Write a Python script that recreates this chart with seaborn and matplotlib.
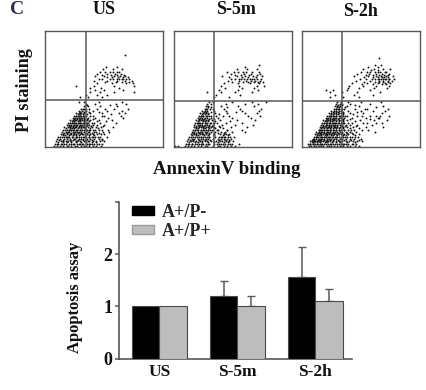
import pandas as pd
import matplotlib
matplotlib.use('Agg')
import matplotlib.pyplot as plt
from matplotlib.patches import Patch
import seaborn as sns

sns.set_style('white')
plt.rcParams['font.family'] = ['Liberation Serif', 'DejaVu Serif']
plt.rcParams['font.weight'] = 'bold'

W, H = 427, 390
LINE = '#585858'

panel_names = ['US', 'S-5m', 'S-2h']

# flow cytometry dots, percent of panel size
# each row is one height (y) and the x positions of the dots seen around it
us_rows = {
    1: [7,10,12,15,18,19,22,25,27,30,33,34,37,40,43,47],
    3: [8,11,14,16,20,23,24,28,31,32,35,38,41,44,48],
    5: [9,13,15,17,19,22,26,27,29,33,36,37,40,43,46,50],
    7: [10,12,16,18,21,24,25,28,30,32,35,38,41,45,48],
    9: [11,14,17,19,20,23,26,27,30,33,34,37,39,42,46,52],
    11: [13,15,18,21,22,24,26,29,31,32,35,38,40,44,47,50],
    13: [14,17,19,20,23,25,27,28,30,33,36,37,41,43,49,54],
    15: [15,18,20,22,24,26,27,29,31,34,35,38,42,45,53],
    17: [16,19,21,23,25,26,28,30,32,33,36,39,43,47,57],
    19: [18,20,22,24,26,27,29,31,33,35,37,40,44,50],
    21: [19,21,23,25,26,28,30,32,34,36,39,46,60],
    23: [21,23,25,26,28,29,31,33,35,38,45,56],
    25: [23,25,27,28,30,31,33,36,42,53,66],
    27: [24,26,28,30,32,34,40,50,64],
    29: [26,28,30,33,38,48,62,67],
    31: [28,31,34,40,52,65],
    33: [30,33,37,44,58,70],
    35: [33,36,46,61],
    37: [34,42,60,68],
    39: [28,33,45,65],
    43: [29,36,48],
    45: [34,44,52],
    47: [38,46,58,75],
    49: [42,50,66],
    51: [38,47,62],
    53: [26,41,58,75],
    55: [44,56,68,74],
    57: [41,52,61,67,73],
    59: [48,57,62,66,71],
    61: [42,50,58,63,67],
    63: [44,52,59,64],
    65: [46,55,61],
    67: [49,57,65],
    69: [51,61],
    79: [67],
}
us_rows_even = {
    2.4: [9.5,13.5,17.5,21.5,26.5,29.5,36.5,39.5,45.5],
    4.2: [10.5,14.5,18.5,21.5,25.5,30.5,34.5,39.5,42.5],
    6.3: [11.5,14.5,20.5,23.5,27.5,31.5,34.5,39.5,47.5],
    8.4: [12.5,15.5,18.5,22.5,25.5,28.5,31.5,36.5,40.5,44.5],
    10.2: [14.5,16.5,19.5,23.5,25.5,28.5,33.5,36.5,41.5],
    12.3: [15.5,18.5,21.5,24.5,27.5,30.5,34.5,39.5,45.5],
    14.4: [16.5,19.5,21.5,23.5,26.5,29.5,32.5,36.5,40.5,47.5],
    16.2: [17.5,20.5,22.5,24.5,27.5,30.5,33.5,37.5,44.5],
    18.3: [19.5,21.5,23.5,25.5,28.5,30.5,34.5,38.5,48.5],
    20.4: [20.5,22.5,24.5,27.5,29.5,32.5,35.5,41.5],
    22.2: [22.5,24.5,27.5,29.5,32.5,36.5,43.5,51.5],
    24.3: [24.5,26.5,29.5,32.5,35.5,40.5],
    26.4: [25.5,27.5,29.5,32.5,37.5,47.5],
    28.2: [27.5,29.5,31.5,35.5,55.5],
    30.3: [29.5,32.5,36.5,45.5],
    32.4: [31.5,34.5,50.5],
    36.2: [35.5,54.5],
    56.2: [50.5,59.5,64.5,70.5],
    58.4: [45.5,54.5,60.5,64.5,68.5],
    60.2: [52.5,56.5,61.5,65.5,69.5],
    62.3: [47.5,55.5,60.5,66.5],
    64.4: [50.5,57.5,62.5],
}
s5m_rows = {
    1: [1,3,9,12,14,17,20,23,26,28,33,37,39,42,45,48,52],
    3: [10,13,15,18,21,24,25,27,30,34,38,40,43,46,49,55],
    5: [11,14,16,19,22,24,26,28,31,36,39,41,44,47,50],
    7: [12,15,17,20,23,25,27,29,33,37,40,42,45,48],
    9: [13,16,18,21,23,26,28,30,35,38,41,43,46,51],
    11: [14,17,19,22,24,25,27,30,34,39,42,44,47],
    13: [15,17,20,22,24,26,28,31,35,40,43,49,60],
    15: [16,18,20,23,25,27,29,32,37,45,58],
    17: [17,19,21,23,25,27,29,31,34,39,48,62],
    19: [17,20,22,24,26,28,30,33,41,52,67],
    21: [18,20,22,24,26,28,31,34,44,58],
    23: [19,21,23,25,27,29,32,39,53,69],
    25: [20,22,24,26,28,31,37,49,65],
    27: [21,23,25,28,30,36,47,63,73],
    29: [22,25,27,29,35,45,60,70],
    31: [24,26,28,34,44,58,72],
    33: [26,28,33,42,56,74],
    35: [27,29,40,54,68],
    37: [28,31,44,60,71],
    39: [30,33,49,66,78],
    43: [34,47],
    45: [36,56],
    47: [28,40,52,66],
    49: [38,54,71],
    51: [43,58,68],
    53: [40,55,70,76],
    55: [42,54,64,72],
    57: [46,55,61,65,69,73],
    59: [48,55,59,64,68,74],
    61: [41,53,60,67,75],
    63: [48,59,65,73],
    65: [45,54,61,72],
    67: [53,62,70],
    69: [60],
    71: [72],
}
s5m_rows_even = {
    2.4: [11.5,15.5,19.5,22.5,28.5,36.5,41.5,47.5],
    4.2: [12.5,17.5,20.5,23.5,28.5,33.5,37.5,42.5,45.5],
    6.3: [13.5,16.5,21.5,26.5,30.5,38.5,43.5,46.5],
    8.4: [14.5,19.5,22.5,24.5,29.5,39.5,42.5,47.5],
    10.2: [15.5,18.5,20.5,25.5,28.5,33.5,41.5,45.5],
    12.3: [16.5,18.5,21.5,23.5,27.5,29.5,37.5,42.5],
    14.4: [17.5,19.5,22.5,25.5,28.5,30.5,36.5,44.5],
    16.2: [18.5,20.5,24.5,26.5,29.5,34.5,41.5],
    18.3: [18.5,21.5,23.5,25.5,29.5,32.5,38.5],
    20.4: [19.5,21.5,23.5,27.5,30.5,36.5],
    22.2: [20.5,24.5,26.5,28.5,34.5,47.5],
    24.3: [21.5,23.5,25.5,29.5,33.5],
    26.4: [22.5,24.5,27.5,31.5,41.5],
    28.2: [23.5,26.5,28.5,38.5],
    30.3: [25.5,27.5,31.5,52.5],
    32.4: [27.5,30.5],
    34.2: [28.5,31.5,44.5],
    56.2: [49.5,58.5,62.5,67.5,71.5,75.5],
    58.4: [51.5,56.5,61.5,66.5,70.5],
    60.2: [46.5,57.5,62.5,69.5],
    62.3: [51.5,56.5,63.5,70.5],
    64.4: [50.5,58.5,66.5],
}
s2h_rows = {
    1: [6,8,10,12,14,16,18,21,23,25,27,30,32,35,38,41,45,48],
    3: [5,7,9,11,13,15,17,19,22,24,26,28,31,33,36,39,42,46],
    5: [7,9,11,13,14,16,18,20,22,24,26,29,31,34,37,40,43,47,51],
    7: [9,10,12,14,16,17,19,21,23,25,27,29,32,34,37,41,44,50],
    9: [10,12,13,15,17,19,20,22,24,26,28,30,33,35,38,42,45],
    11: [11,13,15,16,18,20,21,23,25,27,29,31,33,36,39,43,48],
    13: [12,14,16,17,19,21,22,24,26,28,30,32,34,37,41,46,62],
    15: [14,15,17,19,20,22,24,25,27,29,31,33,36,39,44,56],
    17: [15,17,18,20,22,23,25,27,28,30,32,35,38,43,54,69],
    19: [16,18,20,21,23,25,26,28,30,32,34,37,41,47,59],
    21: [17,19,21,23,24,26,28,29,31,33,36,39,52,63,68],
    23: [18,20,22,24,26,27,29,31,33,35,38,49,61,72],
    25: [20,22,24,26,28,29,31,33,36,42,54,64,65],
    27: [21,24,25,27,29,31,33,35,38,47,58,63,74],
    29: [23,25,27,29,31,33,35,41,52,68],
    31: [25,27,29,31,33,39,50,60,70],
    33: [27,29,31,33,36,45,55,73],
    35: [28,30,32,38,48,69],
    37: [29,32,34,41,58],
    39: [30,33,39,50,67],
    43: [24,35,48],
    45: [28,44,60],
    47: [24,34,47,66],
    49: [20,26,38,58],
    51: [39,48,61,72],
    53: [40,52,63,74],
    55: [42,55,64,70,75],
    57: [46,58,65,69,73,76],
    59: [49,59,64,67,70,74,78],
    61: [44,56,63,67,71,77],
    63: [47,57,63,68,74],
    65: [50,58,64,71],
    67: [52,61,69,75],
    69: [56,64],
    71: [62,67],
    77: [65],
}
s2h_rows_even = {
    2.4: [6.5,9.5,13.5,16.5,20.5,24.5,29.5,34.5,37.5,43.5],
    4.2: [8.5,10.5,12.5,15.5,19.5,21.5,25.5,28.5,32.5,38.5,44.5],
    6.3: [8.5,10.5,13.5,15.5,18.5,21.5,23.5,26.5,30.5,35.5,41.5,48.5],
    8.4: [11.5,13.5,16.5,18.5,20.5,22.5,25.5,28.5,31.5,36.5,40.5,47.5],
    10.2: [12.5,14.5,16.5,19.5,21.5,24.5,26.5,29.5,34.5,37.5,44.5],
    12.3: [13.5,15.5,18.5,20.5,22.5,25.5,27.5,30.5,33.5,38.5,42.5],
    14.4: [14.5,16.5,18.5,21.5,23.5,26.5,28.5,31.5,35.5,41.5,50.5],
    16.2: [16.5,18.5,21.5,23.5,26.5,28.5,31.5,34.5,40.5,48.5],
    18.3: [17.5,19.5,22.5,24.5,27.5,29.5,33.5,36.5,45.5],
    20.4: [18.5,20.5,22.5,25.5,27.5,30.5,34.5,42.5,55.5],
    22.2: [19.5,21.5,23.5,25.5,28.5,31.5,34.5,44.5],
    24.3: [21.5,23.5,25.5,27.5,30.5,34.5,40.5,57.5],
    26.4: [22.5,24.5,26.5,28.5,32.5,36.5,50.5,66.5],
    28.2: [24.5,26.5,28.5,30.5,34.5,43.5],
    30.3: [26.5,28.5,30.5,34.5,46.5],
    32.4: [28.5,30.5,33.5,53.5],
    34.2: [29.5,31.5,36.5,62.5],
    36.2: [30.5,33.5,44.5],
    54.2: [50.5,60.5,67.5,71.5],
    56.2: [52.5,61.5,65.5,68.5,72.5],
    58.4: [54.5,61.5,65.5,68.5,71.5,73.5],
    60.2: [52.5,60.5,64.5,67.5,69.5,72.5],
    62.3: [54.5,60.5,65.5,69.5,72.5],
    64.4: [55.5,61.5,66.5,70.5],
    66.2: [58.5,64.5],
}

# bar chart values
conditions = ['US', 'S-5m', 'S-2h']
a_p_minus = [1.0, 1.2, 1.57]
a_p_plus = [1.0, 1.0, 1.11]
a_p_minus_err = [0.0, 0.29, 0.56]
a_p_plus_err = [0.0, 0.2, 0.23]

panel_dots = [(us_rows, us_rows_even), (s5m_rows, s5m_rows_even), (s2h_rows, s2h_rows_even)]
panel_left = [45.5, 174, 302]
gate_x = [34.7, 34, 34]
gate_y = [40.5, 40, 39.5]


def axes_px(left, top, right, bottom):
    return fig.add_axes([left / W, 1 - bottom / H, (right - left) / W, (bottom - top) / H])


def text_px(x, y, s, color='#111111', **kw):
    fig.text(x / W, 1 - y / H, s, ha='center', va='center', fontweight='bold', color=color, **kw)


fig = plt.figure(figsize=(W / 100, H / 100), dpi=100)

for i, (rows, rows_even) in enumerate(panel_dots):
    ax = axes_px(panel_left[i], 31, panel_left[i] + 118, 147)
    merged = {**rows, **rows_even}
    xs = [x for y, row in merged.items() for x in row]
    ys = [y for y, row in merged.items() for x in row]
    sns.scatterplot(x=xs, y=ys, ax=ax, s=1.9, color='#111111', linewidth=0, zorder=2)
    ax.axvline(gate_x[i], color=LINE, lw=1.1, zorder=4)
    ax.axhline(gate_y[i], color=LINE, lw=1.1, zorder=4)
    ax.set_xlim(0, 100)
    ax.set_ylim(0, 100)
    ax.set_xticks([])
    ax.set_yticks([])
    for sp in ax.spines.values():
        sp.set_visible(True)
        sp.set_color(LINE)
        sp.set_linewidth(1.0)

text_px(17, 10, 'C', color='#2a2a55', fontsize=14)
text_px(104, 9, panel_names[0], fontsize=13)
text_px(236, 10, panel_names[1], fontsize=13)
text_px(360, 12, panel_names[2], fontsize=13)
text_px(25, 90, 'PI staining', fontsize=13, rotation=90)
text_px(227, 169, 'AnnexinV binding', fontsize=13.5)

# bars
df = pd.DataFrame({
    'condition': conditions * 2,
    'value': a_p_minus + a_p_plus,
    'err': a_p_minus_err + a_p_plus_err,
    'group': ['A+/P-'] * 3 + ['A+/P+'] * 3,
})
ax = axes_px(119, 201.7, 351.7, 358.7)
sns.barplot(data=df, x='condition', y='value', hue='group', ax=ax, width=0.706, legend=False,
            palette=['#000000', '#bdbdbd'], edgecolor='#4a4a4a', linewidth=0.8, errorbar=None, zorder=3)
for bar, val, err in zip(ax.patches, df['value'], df['err']):
    if err > 0:
        cx = bar.get_x() + bar.get_width() / 2
        ax.errorbar([cx], [val], yerr=[[0], [err]], color=LINE, lw=1.1, capsize=3.2,
                    capthick=1.0, zorder=2)
ax.set_xlim(-0.515, 2.465)
ax.set_ylim(0, 3)
ax.set_yticks([0, 1, 2, 3])
ax.set_yticklabels(['0', '1', '2', ''], fontsize=13, fontweight='bold', color='#111111')
ax.set_xticks([0, 1, 2])
ax.set_xticklabels(conditions, fontsize=12.5, fontweight='bold', color='#111111')
ax.set_xlabel('')
ax.set_ylabel('')
ax.tick_params(axis='y', length=3, width=1.1, color=LINE, pad=2, left=True)
ax.tick_params(axis='x', length=0, pad=4)
sns.despine(ax=ax)
for side in ['left', 'bottom']:
    ax.spines[side].set_color(LINE)
    ax.spines[side].set_linewidth(1.2)
text_px(75, 297, 'Apoptosis assay', fontsize=12, rotation=90)

handles = [Patch(facecolor='#000000', edgecolor='#000000', label='A+/P-'),
           Patch(facecolor='#bdbdbd', edgecolor='#9a9a9a', label='A+/P+')]
ax.legend(handles=handles, loc='upper left', bbox_to_anchor=(0.055, 0.985), frameon=False,
          handlelength=1.25, handleheight=0.45, handletextpad=0.4, labelspacing=0.1,
          borderaxespad=0, borderpad=0, prop={'size': 13, 'weight': 'bold'})

fig.savefig('out.png', dpi=100)
